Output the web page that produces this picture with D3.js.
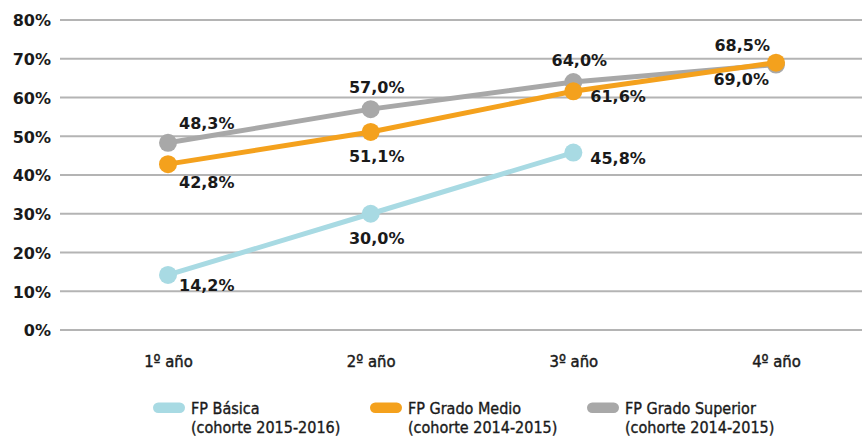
<!DOCTYPE html>
<html>
<head>
<meta charset="utf-8">
<script src="https://cdn.jsdelivr.net/npm/d3@7"></script>
<style>
  html, body { margin: 0; padding: 0; background: #ffffff; }
  svg { display: block; }
</style>
</head>
<body>
<svg id="chart" width="862" height="437"></svg>
<script>
// ---- Data ----
const categories = ["1º año", "2º año", "3º año", "4º año"];
const yTicks = [0, 10, 20, 30, 40, 50, 60, 70, 80];
const seriesNames = ["FP Grado Superior", "FP Grado Medio", "FP Básica"];
const seriesCohorts = ["(cohorte 2014-2015)", "(cohorte 2014-2015)", "(cohorte 2015-2016)"];
const gradoSuperior = [48.3, 57.0, 64.0, 68.5];
const gradoMedio = [42.8, 51.1, 61.6, 69.0];
const basica = [14.2, 30.0, 45.8];

// ---- Styling / layout (not data) ----
const colors = { "FP Básica": "#a8dae3", "FP Grado Medio": "#f4a11d", "FP Grado Superior": "#a8a8a8" };
const labelPlacement = {
  "FP Grado Superior": ["ne", "n", "n", "nw"],
  "FP Grado Medio": ["se", "s", "e", "sw"],
  "FP Básica": ["se2", "s", "e"]
};
const placementOffsets = {
  ne: { dx: 11, dy: -14, anchor: "start" },
  n: { dx: 6, dy: -16, anchor: "middle" },
  nw: { dx: -6, dy: -14, anchor: "end" },
  se: { dx: 11, dy: 24, anchor: "start" },
  se2: { dx: 11, dy: 16, anchor: "start" },
  s: { dx: 6, dy: 30, anchor: "middle" },
  e: { dx: 17, dy: 11, anchor: "start" },
  sw: { dx: -7, dy: 22, anchor: "end" }
};

const series = [
  { name: seriesNames[0], values: gradoSuperior },
  { name: seriesNames[1], values: gradoMedio },
  { name: seriesNames[2], values: basica }
];

const svg = d3.select("#chart");
const x = d3.scalePoint().domain(categories).range([168, 776]);
const y = d3.scaleLinear().domain([0, 80]).range([330, 20]);

// Gridlines
svg.append("g").selectAll("line").data(yTicks).join("line")
  .attr("x1", 60).attr("x2", 862)
  .attr("y1", d => y(d)).attr("y2", d => y(d))
  .attr("stroke", "#b4b4b4").attr("stroke-width", 2);

// Y axis labels
const yAxis = d3.axisLeft(y).tickValues(yTicks).tickFormat(d => d + "%").tickSize(0).tickPadding(0);
const yg = svg.append("g").attr("transform", "translate(51,0)").call(yAxis);
yg.select(".domain").remove();
yg.selectAll("text")
  .attr("font-family", "'DejaVu Sans', sans-serif")
  .attr("font-weight", "bold").attr("font-size", 16)
  .attr("fill", "#1a1a1a").attr("dy", "0.36em");

// X axis labels
const xAxis = d3.axisBottom(x).tickSize(0).tickPadding(0);
const xg = svg.append("g").attr("transform", "translate(0,367)").call(xAxis);
xg.select(".domain").remove();
xg.selectAll("text")
  .attr("font-family", "'DejaVu Sans Condensed', 'DejaVu Sans', sans-serif")
  .attr("font-size", 16.5)
  .attr("y", 0).attr("dy", 0)
  .attr("fill", "#1a1a1a").attr("stroke", "#1a1a1a").attr("stroke-width", 0.45);

// Lines and points
const line = d3.line().x((d, i) => x(categories[i])).y(d => y(d));
series.forEach(s => {
  const g = svg.append("g");
  g.append("path").datum(s.values)
    .attr("d", line).attr("fill", "none")
    .attr("stroke", colors[s.name]).attr("stroke-width", 5);
  g.selectAll("circle").data(s.values).join("circle")
    .attr("cx", (d, i) => x(categories[i])).attr("cy", d => y(d))
    .attr("r", 9).attr("fill", colors[s.name]);
});

// Data labels
const fmt = v => v.toFixed(1).replace(".", ",") + "%";
series.forEach(s => {
  svg.append("g").selectAll("text").data(s.values).join("text")
    .attr("x", (d, i) => x(categories[i]) + placementOffsets[labelPlacement[s.name][i]].dx)
    .attr("y", (d, i) => y(d) + placementOffsets[labelPlacement[s.name][i]].dy)
    .attr("text-anchor", (d, i) => placementOffsets[labelPlacement[s.name][i]].anchor)
    .attr("font-family", "'DejaVu Sans', sans-serif")
    .attr("font-weight", "bold").attr("font-size", 16)
    .attr("fill", "#1a1a1a")
    .text(fmt);
});

// Legend
const legendOrder = [2, 1, 0];
const legendX = [153, 370, 587];
legendOrder.forEach((si, k) => {
  const g = svg.append("g").attr("transform", `translate(${legendX[k]},0)`);
  g.append("rect").attr("x", 0).attr("y", 402.5).attr("width", 32).attr("height", 10.5)
    .attr("rx", 5.25).attr("fill", colors[seriesNames[si]]);
  const lines = [seriesNames[si], seriesCohorts[si]];
  const baselines = [414, 433];
  g.selectAll("text").data(lines).join("text")
    .attr("x", 38).attr("y", (d, i) => baselines[i])
    .attr("font-family", "'DejaVu Sans Condensed', 'DejaVu Sans', sans-serif")
    .attr("font-size", 16).attr("fill", "#1a1a1a")
    .attr("stroke", "#1a1a1a").attr("stroke-width", 0.35)
    .text(d => d);
});
</script>
</body>
</html>
